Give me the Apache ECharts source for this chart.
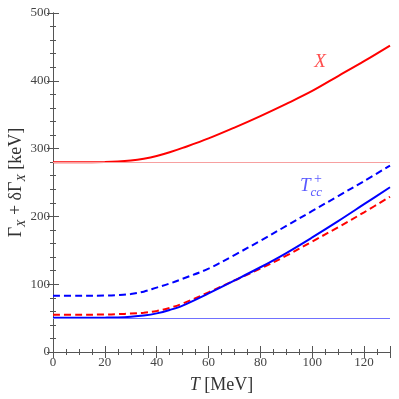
<!DOCTYPE html>
<html>
<head>
<meta charset="utf-8">
<script src="https://cdn.jsdelivr.net/npm/echarts@6/dist/echarts.min.js"></script>
<style>
  html, body { margin: 0; padding: 0; background: #fff; }
  #chart { width: 399px; height: 399px; }
</style>
</head>
<body>
<div id="chart"></div>
<script>
// temperature grid [MeV]
const temps = [0, 10, 20, 25, 30, 35, 40, 45, 50, 60, 70, 80, 90, 100, 110, 120, 130];
// Gamma + dGamma [keV]
const xSolid = [280, 280, 280.2, 280.8, 282.3, 285, 289, 294.5, 301, 315, 331, 348, 366, 385, 407, 429, 452];
const xDashed = [55, 55, 55.3, 55.8, 56.7, 58, 60.5, 65, 71.5, 88, 105.5, 123, 142, 163, 184, 206, 229];
const tccSolid = [50.5, 50.5, 50.7, 51, 52, 53.8, 57, 62, 68.5, 86.5, 105.5, 125, 146, 169, 193, 218, 243];
const tccDashed = [83, 83, 83.3, 84, 85.5, 89, 95, 101, 108, 123, 143, 164, 186, 208, 230, 252, 275];
// vacuum widths (thin horizontal lines): X, Tcc
const vacuumWidths = [280, 50];
// where the curve names sit [T, Gamma]
const labelAt = [[103, 428], [99.5, 242]];

const pairs = (ys) => temps.map((t, i) => [t, ys[i]]);
const serif = 'Liberation Serif';
const axisColor = '#555';

const tickAxis = (extra) => Object.assign({
  type: 'value',
  axisLine: { show: true, lineStyle: { color: axisColor, width: 1 } },
  axisTick: { show: true, inside: true, length: 6, lineStyle: { color: axisColor } },
  minorTick: { show: true, splitNumber: 4, length: 3, lineStyle: { color: axisColor } },
  splitLine: { show: false },
  axisLabel: { show: false }
}, extra);

const label = {
  show: true,
  fontFamily: serif,
  fontSize: 13,
  color: '#444',
  showMaxLabel: false
};

const curve = (name, ys, color, dashed) => ({
  name: name, type: 'line', data: pairs(ys), smooth: 0.35,
  showSymbol: false,
  lineStyle: { color: color, width: 2, type: dashed ? [7, 4] : 'solid' }
});

const chart = echarts.init(document.getElementById('chart'));
chart.setOption({
  animation: false,
  grid: { left: 53, right: 9, top: 13, bottom: 47, containLabel: false, outerBoundsMode: 'none' },
  xAxis: [
    tickAxis({
      min: 0, max: 130, interval: 20,
      axisLabel: Object.assign({}, label, { margin: 4 }),
      name: '{i|T} [MeV]',
      nameLocation: 'middle',
      nameGap: 24,
      nameMoveOverlap: false,
      nameTextStyle: {
        fontFamily: serif, fontSize: 18, color: '#333',
        rich: { i: { fontFamily: serif, fontSize: 18, fontStyle: 'italic', color: '#333' } }
      }
    }),
    tickAxis({ min: 0, max: 130, interval: 20, position: 'top' })
  ],
  yAxis: [
    tickAxis({
      min: 0, max: 500, interval: 100,
      minorTick: { show: true, splitNumber: 5, length: 3, lineStyle: { color: axisColor } },
      axisLabel: Object.assign({}, label, { margin: 3, showMaxLabel: true }),
      name: '{n|Γ}{s|X}{n| + δΓ}{s|X}{n| [keV]}',
      nameLocation: 'middle',
      nameGap: 25,
      nameMoveOverlap: false,
      nameTextStyle: {
        rich: {
          n: { fontFamily: serif, fontSize: 18, color: '#333', verticalAlign: 'top' },
          s: { fontFamily: serif, fontSize: 12, fontStyle: 'italic', color: '#333', verticalAlign: 'bottom', lineHeight: 21 }
        }
      }
    }),
    tickAxis({
      min: 0, max: 500, interval: 100, position: 'right',
      minorTick: { show: true, splitNumber: 5, length: 3, lineStyle: { color: axisColor } }
    })
  ],
  series: [
    Object.assign(curve('X', xSolid, '#ff0000', false), {
      markLine: {
        silent: true, symbol: ['none', 'none'], label: { show: false },
        lineStyle: { color: '#f7a0a0', width: 1, type: 'solid' },
        data: [{ yAxis: vacuumWidths[0] }]
      }
    }),
    curve('X dashed', xDashed, '#ff0000', true),
    Object.assign(curve('Tcc', tccSolid, '#0000ff', false), {
      markLine: {
        silent: true, symbol: ['none', 'none'], label: { show: false },
        lineStyle: { color: '#7070ff', width: 1, type: 'solid' },
        data: [{ yAxis: vacuumWidths[1] }]
      }
    }),
    curve('Tcc dashed', tccDashed, '#0000ff', true),
    {
      name: 'labels', type: 'scatter', symbolSize: 0, silent: true,
      data: [
        {
          value: labelAt[0],
          label: { show: true, position: 'inside', formatter: 'X',
            fontFamily: serif, fontSize: 19, fontStyle: 'italic', color: '#ff2020' }
        },
        {
          value: labelAt[1],
          label: { show: true, position: 'inside', formatter: '{t|T}{s|cc}',
            rich: {
              t: { fontFamily: serif, fontSize: 19, fontStyle: 'italic', color: '#3030ff', verticalAlign: 'top' },
              s: { fontFamily: serif, fontSize: 13, fontStyle: 'italic', color: '#3030ff', verticalAlign: 'bottom', lineHeight: 23 }
            } }
        },
        {
          value: labelAt[1],
          label: { show: true, position: 'inside', formatter: '+', offset: [7, -9],
            fontFamily: serif, fontSize: 14, color: '#3030ff' }
        }
      ]
    }
  ]
});
</script>
</body>
</html>
